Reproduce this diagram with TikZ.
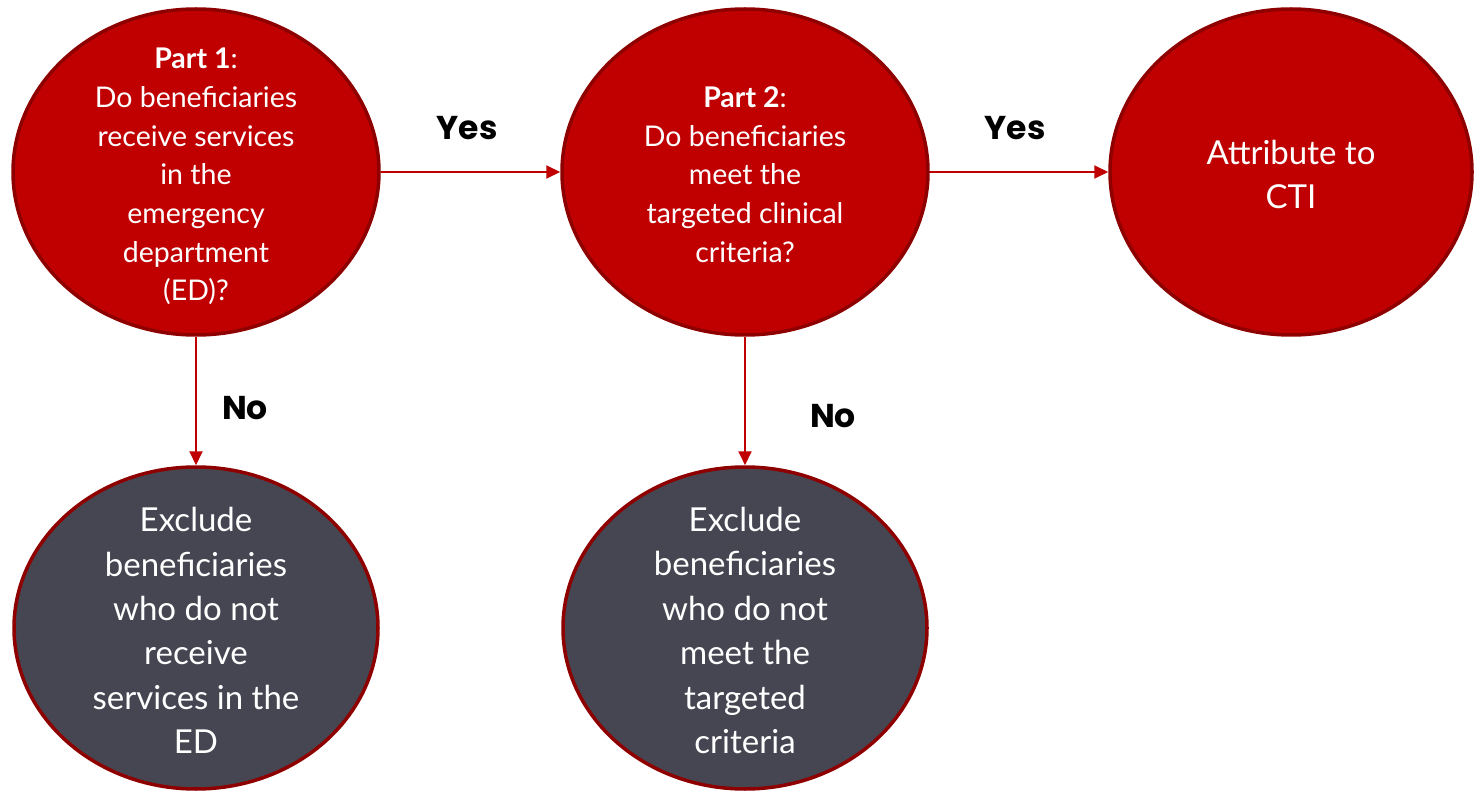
\documentclass[tikz,border=0pt]{standalone}
\usepackage{fontspec}
\setmainfont{Lato}
\newfontfamily\lblfont{Poppins}
\usetikzlibrary{shapes.geometric,arrows.meta}
\definecolor{cred}{HTML}{C00000}
\definecolor{cborder}{HTML}{8E0000}
\definecolor{cdark}{HTML}{464652}
\tikzset{
  redcirc/.style={ellipse, draw=cborder, line width=3.5pt, fill=cred,
    minimum width=366pt, minimum height=326pt, inner sep=0pt},
  darkcirc/.style={ellipse, draw=cborder, line width=3.5pt, fill=cdark,
    minimum width=364pt, minimum height=322pt, inner sep=0pt},
  smalltxt/.style={text=white, align=center, inner sep=0pt, font=\fontsize{28.5}{38.7}\selectfont},
  bigtxt/.style={text=white, align=center, inner sep=0pt, font=\fontsize{33}{44.4}\selectfont},
  conn/.style={draw=cred, line width=2pt, -{Triangle[length=14pt,width=13pt]}},
  lbl/.style={font=\lblfont\bfseries\fontsize{33}{36}\selectfont, text=black, inner sep=0pt}
}
\begin{document}
\begin{tikzpicture}[x=1pt,y=-1pt]
\useasboundingbox (0,0) rectangle (1475,791);
\node[redcirc] (c1) at (196,172) {};
\node[redcirc] (c2) at (745,172) {};
\node[redcirc, minimum width=362pt] (c3) at (1291,172) {};
\node[darkcirc] (c4) at (196,628) {};
\node[darkcirc] (c5) at (745,628) {};
\node[smalltxt] (t1) at (196,176.5) {\textbf{Part 1}:\\Do beneficiaries\\receive services\\in the\\emergency\\department\\(ED)?};
\node[smalltxt] (t2) at (745,174.5) {\textbf{Part 2}:\\Do beneficiaries\\meet the\\targeted clinical\\criteria?};
\node[bigtxt] (t3) at (1291,174.5) {Attribute to\\CTI};
\node[bigtxt] (t4) at (196,630.5) {Exclude\\beneficiaries\\who do not\\receive\\services in the\\ED};
\node[bigtxt] (t5) at (745,630.5) {Exclude\\beneficiaries\\who do not\\meet the\\targeted\\criteria};
\draw[conn] (c1.east) -- (c2.west);
\draw[conn] (c2.east) -- (c3.west);
\draw[conn] (c1.south) -- (c4.north);
\draw[conn] (c2.south) -- (c5.north);
\node[lbl] (y1) at (467,128) {Yes};
\node[lbl] (y2) at (1015,128) {Yes};
\node[lbl] (n1) at (245,408) {No};
\node[lbl] (n2) at (833,416) {No};
\end{tikzpicture}
\end{document}
